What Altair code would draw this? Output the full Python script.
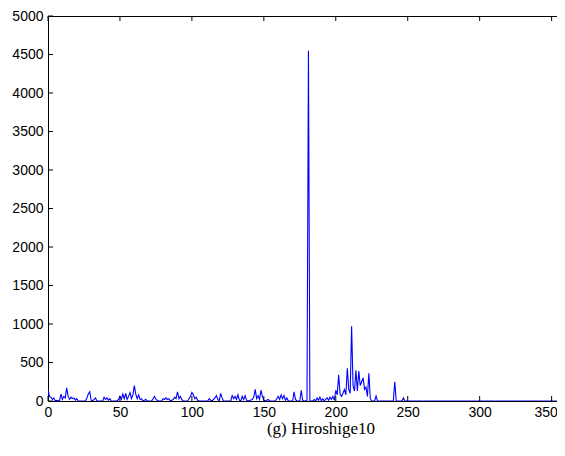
import altair as alt
import pandas as pd

# Histogram outline vertices (x = hue bin, y = count)
x_vals = [0, 1, 2, 3, 4, 5, 6, 8, 9, 10, 11, 12, 13, 14, 15, 16, 17, 18, 19, 20, 21,
          26, 27, 28, 29, 30, 31, 33, 34, 38, 39, 40, 41, 42, 43, 44, 48, 49, 50, 51,
          52, 53, 54, 55, 56, 57, 58, 59, 60, 61, 62, 63, 64, 65, 66, 67, 68, 69, 72,
          73, 74, 75, 76, 77, 79, 80, 81, 82, 83, 84, 85, 87, 88, 89, 90, 91, 92, 93,
          94, 97, 98, 99, 100, 101, 102, 103, 104, 105,
          111, 112, 113, 114, 116, 117, 118, 119, 120, 121, 122, 127, 128, 129, 130,
          131, 132, 133, 134, 135, 136, 137, 138, 139, 142, 143, 144, 145, 146, 147,
          148, 149, 150, 151, 153, 154, 158, 159, 160, 161, 162, 163, 164, 165, 166,
          167, 170, 171, 172, 173, 175, 176, 177, 178, 179, 180, 181, 182,
          184, 185, 186, 187, 188, 189, 190, 191, 192, 193, 194, 195, 196, 197, 198,
          199, 200, 201, 202, 203, 204, 205, 206, 207, 208, 209, 210, 211, 212, 213,
          214, 215, 216, 217, 218, 219, 220, 221, 222, 223, 224, 225, 227, 228, 229,
          240, 241, 242, 246, 247, 248, 360]
y_vals = [150, 60, 50, 20, 40, 0, 10, 0, 90, 20, 60, 40, 170, 60, 20, 50, 30, 40, 10, 30, 0,
          0, 40, 90, 120, 10, 0, 40, 0, 0, 50, 20, 40, 10, 30, 0, 0, 20, 60, 20,
          90, 30, 100, 20, 60, 110, 30, 80, 200, 90, 30, 80, 20, 30, 0, 10, 20, 0, 0,
          30, 60, 20, 10, 0, 0, 30, 20, 40, 20, 30, 0, 20, 50, 30, 120, 30, 60, 20,
          0, 0, 30, 60, 110, 80, 30, 50, 10, 0,
          0, 30, 10, 0, 40, 70, 20, 0, 100, 40, 0, 0, 70, 30, 60,
          20, 80, 10, 0, 60, 20, 70, 10, 0, 20, 50, 150, 30, 70, 20,
          140, 60, 10, 0, 20, 0, 0, 30, 60, 20, 80, 30, 70, 10, 40,
          0, 0, 120, 20, 0, 0, 140, 10, 0, 0, 10, 4550, 0,
          0, 20, 0, 40, 10, 50, 0, 30, 0, 20, 40, 10, 50, 20, 60,
          10, 140, 80, 340, 90, 60, 100, 150, 80, 425, 150, 100, 970, 200, 130,
          400, 130, 390, 200, 250, 300, 150, 180, 60, 360, 30, 0, 0, 65, 0,
          0, 250, 0, 0, 40, 0, 0]

x_ticks = [0, 50, 100, 150, 200, 250, 300, 350]
y_ticks = [0, 500, 1000, 1500, 2000, 2500, 3000, 3500, 4000, 4500, 5000]

W, H = 518, 385

df = pd.DataFrame({"x": x_vals, "y": y_vals})
xt = pd.DataFrame({"v": x_ticks})
yt = pd.DataFrame({"v": y_ticks})

xscale = alt.Scale(domain=[0, 360], nice=False, zero=False)
yscale = alt.Scale(domain=[0, 5000], nice=False)

xaxis = alt.Axis(values=x_ticks, ticks=False, domain=False, grid=False, labelPadding=4,
                 labelFont="Liberation Sans", labelFontSize=14, labelColor="black",
                 title=None, labelFlush=False, labelOverlap=False, format="d",
                 labelOffset={"condition": {"test": "datum.value == 350", "value": -6},
                              "value": 0})
yaxis = alt.Axis(values=y_ticks, ticks=False, domain=False, grid=False, labelPadding=5,
                 labelFont="Liberation Sans", labelFontSize=14, labelColor="black",
                 title=None, format="d", labelOverlap=False, labelFlush=False)

line = alt.Chart(df).mark_line(color="#0000ff", strokeWidth=1.1, clip=True).encode(
    x=alt.X("x:Q", scale=xscale, axis=xaxis),
    y=alt.Y("y:Q", scale=yscale, axis=yaxis),
)

tick_style = dict(color="black", strokeWidth=1)
bottom = alt.Chart(xt).mark_rule(**tick_style).encode(
    x=alt.X("v:Q", scale=xscale, axis=xaxis), y=alt.value(H), y2=alt.value(H - 5))
top = alt.Chart(xt).mark_rule(**tick_style).encode(
    x=alt.X("v:Q", scale=xscale, axis=xaxis), y=alt.value(0), y2=alt.value(5))
left = alt.Chart(yt).mark_rule(**tick_style).encode(
    y=alt.Y("v:Q", scale=yscale, axis=yaxis), x=alt.value(0), x2=alt.value(5))
right = alt.Chart(yt).mark_rule(**tick_style).encode(
    y=alt.Y("v:Q", scale=yscale, axis=yaxis), x=alt.value(W), x2=alt.value(W - 5))

chart = alt.layer(line, bottom, top, left, right).properties(
    width=W, height=H,
    title=alt.TitleParams("(g) Hiroshige10", orient="bottom", font="Liberation Serif",
                          fontSize=17, fontWeight="normal", color="black", offset=2,
                          dx=14),
    autosize="none",
    padding={"left": 40, "top": 8, "right": -9, "bottom": 40},
).configure_view(stroke="black", strokeWidth=1)

chart.save("out.html", embed_options={"renderer": "svg", "actions": False})
